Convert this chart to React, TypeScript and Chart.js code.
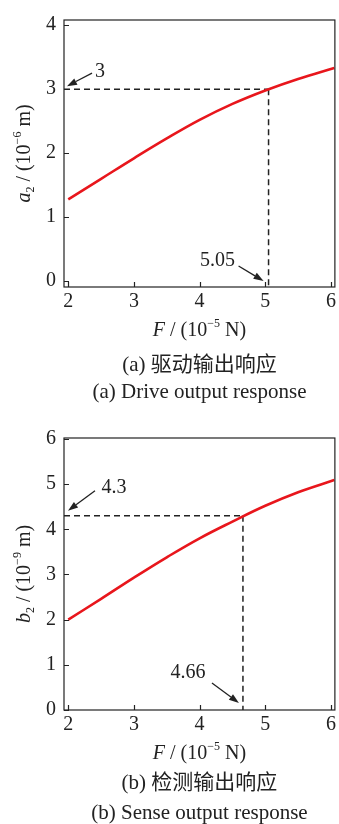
import React, { useEffect, useRef } from "react";
import { Chart, registerables } from "chart.js";

Chart.register(...registerables);

// ---------- data ----------
const xTickValues = [2, 3, 4, 5, 6];

const driveF = [2, 2.5, 3, 3.5, 4, 4.5, 5, 5.5, 6.05];
const driveA2 = [1.28, 1.6, 1.92, 2.23, 2.52, 2.77, 2.98, 3.16, 3.33];
const driveYTicks = [0, 1, 2, 3, 4];
const driveMarkF = 5.05;
const driveMarkA2 = 3;

const senseF = [2, 2.5, 3, 3.5, 4, 4.5, 5, 5.5, 6.05];
const senseB2 = [2.0, 2.46, 2.93, 3.38, 3.8, 4.17, 4.52, 4.82, 5.09];
const senseYTicks = [0, 1, 2, 3, 4, 5, 6];
const senseMarkF = 4.66;
const senseMarkB2 = 4.3;

const SERIF = '"Liberation Serif", "Times New Roman", serif';
const CJK = '"Liberation Serif", "Noto Sans CJK SC", serif';
const INK = "#222";

type Seg = { t: string; italic?: boolean; sup?: boolean; sub?: boolean };

function drawRich(ctx: CanvasRenderingContext2D, segs: Seg[], cx: number, cy: number, size: number, rotate = false) {
  ctx.save();
  ctx.translate(cx, cy);
  if (rotate) ctx.rotate(-Math.PI / 2);
  const small = Math.round(size * 0.6);
  const fontOf = (s: Seg) => `${s.italic ? "italic " : ""}${s.sup || s.sub ? small : size}px ${SERIF}`;
  let total = 0;
  const widths = segs.map((s) => {
    ctx.font = fontOf(s);
    const w = ctx.measureText(s.t).width;
    total += w;
    return w;
  });
  let x = -total / 2;
  ctx.fillStyle = INK;
  ctx.textBaseline = "middle";
  ctx.textAlign = "left";
  segs.forEach((s, i) => {
    ctx.font = fontOf(s);
    const dy = s.sup ? -size * 0.35 : s.sub ? size * 0.28 : 0;
    ctx.fillText(s.t, x, dy);
    x += widths[i];
  });
  ctx.restore();
}

function drawArrow(ctx: CanvasRenderingContext2D, tipX: number, tipY: number, tailX: number, tailY: number) {
  const ang = Math.atan2(tipY - tailY, tipX - tailX);
  const head = 10;
  const half = 3.5;
  const bx = tipX - head * Math.cos(ang);
  const by = tipY - head * Math.sin(ang);
  ctx.save();
  ctx.strokeStyle = INK;
  ctx.fillStyle = INK;
  ctx.lineWidth = 1.3;
  ctx.beginPath();
  ctx.moveTo(tailX, tailY);
  ctx.lineTo(bx, by);
  ctx.stroke();
  ctx.beginPath();
  ctx.moveTo(tipX, tipY);
  ctx.lineTo(bx + half * Math.sin(ang), by - half * Math.cos(ang));
  ctx.lineTo(bx - half * Math.sin(ang), by + half * Math.cos(ang));
  ctx.closePath();
  ctx.fill();
  ctx.restore();
}

type Note = { text: string; ax: "y" | "x"; tip: [number, number]; tail: [number, number]; label: [number, number] };

type Panel = {
  xs: number[];
  ys: number[];
  yTicks: number[];
  xMin: number;
  xMax: number;
  yMin: number;
  yMax: number;
  markX: number;
  markY: number;
  height: number;
  padTop: number;
  xAxisH: number;
  yTitle: Seg[];
  captions: string[];
  captionDy: number[];
  notes: Note[];
};

function decorPlugin(p: Panel) {
  return {
    id: "decor",
    afterDraw(chart: any) {
      const ctx: CanvasRenderingContext2D = chart.ctx;
      const a = chart.chartArea;
      const xs = chart.scales.x;
      const ys = chart.scales.y;
      ctx.save();
      // frame
      ctx.strokeStyle = INK;
      ctx.lineWidth = 1.2;
      ctx.strokeRect(a.left, a.top, a.right - a.left, a.bottom - a.top);
      // inward ticks
      ctx.beginPath();
      xTickValues.forEach((v) => {
        const px = Math.round(xs.getPixelForValue(v)) + 0.5;
        ctx.moveTo(px, a.bottom);
        ctx.lineTo(px, a.bottom - 5);
      });
      p.yTicks.forEach((v) => {
        const py = Math.round(ys.getPixelForValue(v)) + 0.5;
        ctx.moveTo(a.left, py);
        ctx.lineTo(a.left + 5, py);
      });
      ctx.stroke();
      ctx.restore();

      // annotations
      const mx = xs.getPixelForValue(p.markX);
      const my = ys.getPixelForValue(p.markY);
      const leftPx = a.left;
      const bottomPx = a.bottom;
      p.notes.forEach((n) => {
        const ox = n.ax === "y" ? leftPx : mx;
        const oy = n.ax === "y" ? my : bottomPx;
        drawArrow(ctx, ox + n.tip[0], oy + n.tip[1], ox + n.tail[0], oy + n.tail[1]);
        ctx.save();
        ctx.font = `20px ${SERIF}`;
        ctx.fillStyle = INK;
        ctx.textAlign = "center";
        ctx.textBaseline = "middle";
        ctx.fillText(n.text, ox + n.label[0], oy + n.label[1]);
        ctx.restore();
      });

      // axis titles
      const cx = (a.left + a.right) / 2;
      drawRich(ctx, p.yTitle, 25, (a.top + a.bottom) / 2, 20, true);
      drawRich(
        ctx,
        [{ t: "F", italic: true }, { t: " / (10" }, { t: "−5", sup: true }, { t: " N)" }],
        cx,
        a.bottom + 44,
        20
      );
      // captions
      ctx.save();
      ctx.fillStyle = INK;
      ctx.textAlign = "center";
      ctx.textBaseline = "middle";
      p.captions.forEach((c, i) => {
        ctx.font = `21px ${CJK}`;
        ctx.fillText(c, cx, a.bottom + p.captionDy[i]);
      });
      ctx.restore();
    },
  };
}

function makeConfig(p: Panel): any {
  const tickFont = { family: SERIF, size: 20 };
  const dashed = {
    showLine: true,
    borderColor: "#222",
    borderWidth: 1.5,
    borderDash: [6, 4],
    pointRadius: 0,
  };
  return {
    type: "scatter",
    data: {
      datasets: [
        {
          data: p.xs.map((x, i) => ({ x, y: p.ys[i] })),
          showLine: true,
          borderColor: "#e8161c",
          borderWidth: 2.6,
          pointRadius: 0,
          tension: 0.4,
        },
        {
          ...dashed,
          data: [
            { x: p.xMin, y: p.markY },
            { x: p.markX, y: p.markY },
          ],
        },
        {
          ...dashed,
          data: [
            { x: p.markX, y: p.markY },
            { x: p.markX, y: p.yMin },
          ],
        },
      ],
    },
    options: {
      responsive: false,
      maintainAspectRatio: false,
      animation: false,
      events: [],
      layout: { padding: { top: p.padTop, right: 4, left: 0, bottom: 0 } },
      plugins: { legend: { display: false }, tooltip: { enabled: false }, title: { display: false } },
      scales: {
        x: {
          type: "linear",
          min: p.xMin,
          max: p.xMax,
          afterFit: (s: any) => {
            s.height = p.xAxisH;
          },
          afterBuildTicks: (s: any) => {
            s.ticks = xTickValues.map((v) => ({ value: v }));
          },
          grid: { display: false, drawTicks: false },
          border: { display: false },
          ticks: { font: tickFont, color: INK, padding: 3, maxRotation: 0, autoSkip: false },
        },
        y: {
          type: "linear",
          min: p.yMin,
          max: p.yMax,
          afterFit: (s: any) => {
            s.width = 64;
          },
          afterBuildTicks: (s: any) => {
            s.ticks = p.yTicks.map((v) => ({ value: v }));
          },
          grid: { display: false, drawTicks: false },
          border: { display: false },
          ticks: { font: tickFont, color: INK, padding: 8, autoSkip: false },
        },
      },
    },
    plugins: [decorPlugin(p)],
  };
}

const drivePanel: Panel = {
  xs: driveF,
  ys: driveA2,
  yTicks: driveYTicks,
  xMin: 1.935,
  xMax: 6.06,
  yMin: -0.09,
  yMax: 4.08,
  markX: driveMarkF,
  markY: driveMarkA2,
  height: 410,
  padTop: 15,
  xAxisH: 123,
  yTitle: [{ t: "a", italic: true }, { t: "2", sub: true }, { t: " / (10" }, { t: "−6", sup: true }, { t: " m)" }],
  captions: ["(a) 驱动输出响应", "(a) Drive output response"],
  captionDy: [78, 105],
  notes: [
    { text: String(driveMarkA2), ax: "y", tip: [3, -3], tail: [28, -16], label: [36, -17] },
    { text: driveMarkF.toFixed(2), ax: "x", tip: [-5, -6], tail: [-30, -21], label: [-51, -26] },
  ],
};

const sensePanel: Panel = {
  xs: senseF,
  ys: senseB2,
  yTicks: senseYTicks,
  xMin: 1.935,
  xMax: 6.06,
  yMin: 0,
  yMax: 6.02,
  markX: senseMarkF,
  markY: senseMarkB2,
  height: 414,
  padTop: 28,
  xAxisH: 114,
  yTitle: [{ t: "b", italic: true }, { t: "2", sub: true }, { t: " / (10" }, { t: "−9", sup: true }, { t: " m)" }],
  captions: ["(b) 检测输出响应", "(b) Sense output response"],
  captionDy: [73, 103],
  notes: [
    { text: String(senseMarkB2), ax: "y", tip: [4, -5], tail: [31, -25], label: [50, -28] },
    { text: senseMarkF.toFixed(2), ax: "x", tip: [-4, -7], tail: [-31, -27], label: [-55, -37] },
  ],
};

function PanelChart({ panel, top }: { panel: Panel; top: number }) {
  const ref = useRef<HTMLCanvasElement | null>(null);
  useEffect(() => {
    if (!ref.current) return;
    const chart = new Chart(ref.current, makeConfig(panel));
    return () => chart.destroy();
  }, [panel]);
  return (
    <canvas
      ref={ref}
      width={339}
      height={panel.height}
      style={{ position: "absolute", left: 0, top, width: 339, height: panel.height, display: "block" }}
    />
  );
}

export default function App() {
  return (
    <div style={{ position: "absolute", left: 0, top: 0, width: 339, height: 824, background: "#fff" }}>
      <PanelChart panel={drivePanel} top={0} />
      <PanelChart panel={sensePanel} top={410} />
    </div>
  );
}
